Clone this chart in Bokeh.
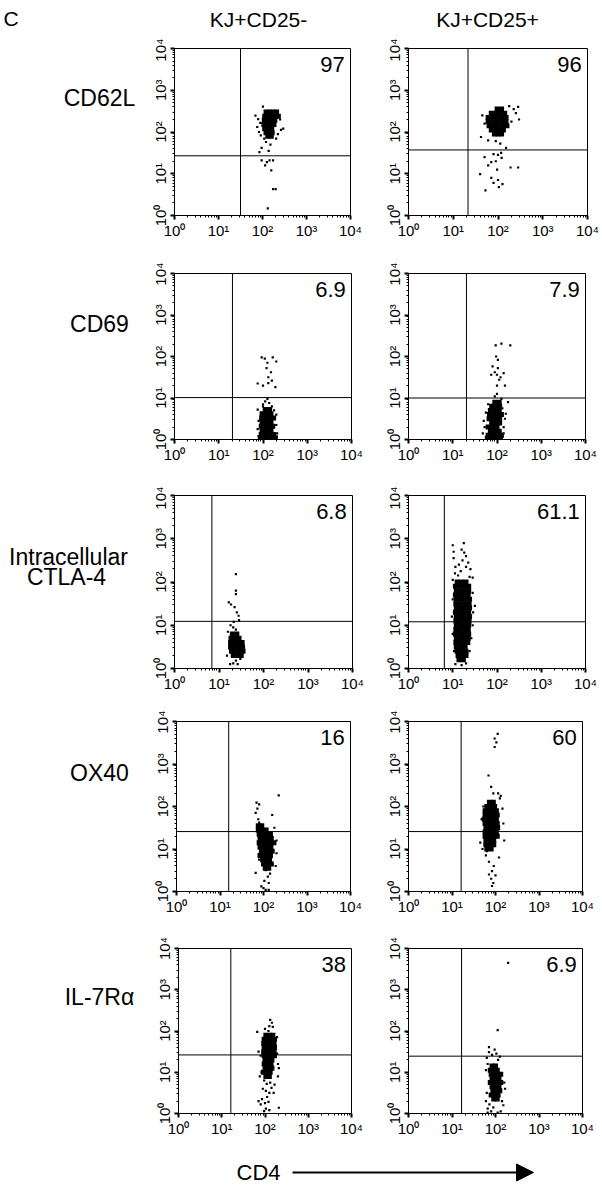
import numpy as np
from bokeh.plotting import figure
from bokeh.models import Range1d, FixedTicker, Span, Label, Arrow, NormalHead
from bokeh.layouts import column, row
from bokeh.embed import file_html
from bokeh.resources import INLINE
from bokeh.core.properties import value

FONT = "Liberation Sans"

# ---------------- data ----------------
panel_letter = "C"
column_titles = ["KJ+CD25-", "KJ+CD25+"]
row_markers = [["CD62L"], ["CD69"], ["Intracellular", "CTLA-4"], ["OX40"], ["IL-7R\u03b1"]]
axis_title = "CD4"
decade_ticks = [1, 10, 100, 1000, 10000]
decade_labels = ["10\u2070", "10\u00b9", "10\u00b2", "10\u00b3", "10\u2074"]

# upper-right quadrant percentages, panels in reading order
percent_upper_right = ["97", "96", "6.9", "7.9", "6.8", "61.1", "16", "60", "38", "6.9"]
# quadrant gates (log10 of fluorescence)
gate_cd4_log = [1.50, 1.33, 1.31, 1.31, 0.84, 0.81, 1.20, 1.21, 1.21, 1.22]
gate_marker_log = [1.43, 1.57, 1.01, 1.00, 1.09, 1.08, 1.41, 1.41, 1.42, 1.39]

# events, log10(CD4) / log10(marker); dense cores given as rows (y, [x...])
cd62l_neg_core = [(2.48, [2.08, 2.16, 2.24, 2.32]), (2.38, [2.05, 2.13, 2.21, 2.29, 2.36]),
                  (2.28, [2.04, 2.12, 2.20, 2.28]), (2.18, [2.03, 2.11, 2.19, 2.26]),
                  (2.08, [2.05, 2.13, 2.21]), (1.98, [2.08, 2.16, 2.22]), (1.90, [2.12, 2.20])]
cd62l_neg_sparse = [(2.01, 2.61), (1.84, 2.39), (1.90, 2.31), (1.95, 2.22), (2.42, 2.05), (2.47, 2.08),
                    (1.96, 1.92), (2.04, 1.84), (2.31, 1.84), (2.08, 1.76), (2.18, 1.70), (1.98, 1.62),
                    (2.14, 1.55), (1.93, 1.52), (1.98, 1.32), (2.10, 1.28), (2.16, 1.32), (2.24, 1.32),
                    (2.06, 1.20), (2.20, 1.08), (2.24, 0.63), (2.30, 0.63), (2.12, 0.17), (1.88, 2.12),
                    (2.40, 2.30), (2.35, 1.95), (1.92, 2.00)]

cd62l_pos_core = [(2.55, [1.98, 2.08]), (2.45, [1.85, 1.95, 2.05, 2.15]),
                  (2.35, [1.78, 1.88, 1.98, 2.08, 2.18]), (2.25, [1.78, 1.88, 1.98, 2.08, 2.18]),
                  (2.15, [1.80, 1.90, 2.00, 2.10, 2.20]), (2.05, [1.85, 1.95, 2.05, 2.12]),
                  (1.95, [1.92, 2.00, 2.08])]
cd62l_pos_sparse = [(2.25, 2.62), (2.35, 2.55), (2.45, 2.60), (2.40, 2.45), (2.47, 2.30), (2.30, 2.25),
                    (1.65, 2.40), (1.70, 2.20), (1.62, 1.88), (1.78, 1.80), (1.95, 1.78), (2.05, 1.72),
                    (2.18, 1.62), (1.90, 1.47), (2.00, 1.45), (2.07, 1.50), (1.70, 1.40), (1.85, 1.28),
                    (1.95, 1.30), (2.08, 1.38), (2.28, 1.15), (2.45, 1.15), (1.78, 1.20), (1.60, 0.99),
                    (1.85, 0.90), (2.00, 0.85), (1.90, 0.78), (2.10, 0.75), (1.72, 0.60), (2.02, 0.68),
                    (1.98, 1.10)]

cd69_neg_core = [(0.72, [2.05, 2.15]), (0.62, [1.98, 2.08, 2.18]), (0.52, [1.97, 2.06, 2.16, 2.24]),
                 (0.42, [1.98, 2.08, 2.18]), (0.32, [1.96, 2.05, 2.14, 2.22]), (0.22, [1.98, 2.08, 2.18]),
                 (0.12, [1.96, 2.05, 2.14, 2.24]), (0.04, [1.94, 2.02, 2.10, 2.20, 2.28])]
cd69_neg_sparse = [(1.97, 1.98), (2.04, 1.95), (2.22, 1.98), (2.30, 1.88), (2.10, 1.85), (2.08, 1.72),
                   (2.18, 1.62), (2.12, 1.50), (2.20, 1.42), (1.88, 1.35), (2.00, 1.30), (2.12, 1.36),
                   (2.28, 1.26), (2.10, 0.98), (2.05, 0.92), (2.14, 0.88), (2.00, 0.85), (2.20, 0.80),
                   (1.88, 0.72), (2.30, 0.60), (1.90, 0.45), (2.30, 0.35), (1.88, 0.25), (2.32, 0.15),
                   (1.90, 0.08), (2.00, 0.80), (2.25, 0.70)]

cd69_pos_core = [(0.90, [1.95, 2.05]), (0.80, [1.88, 1.98, 2.06]), (0.70, [1.85, 1.95, 2.05]),
                 (0.60, [1.83, 1.92, 2.02, 2.10]), (0.50, [1.82, 1.90, 1.98, 2.06]),
                 (0.40, [1.88, 1.98, 2.06]), (0.30, [1.80, 1.90, 2.00]), (0.20, [1.85, 1.95, 2.05]),
                 (0.10, [1.80, 1.90, 2.00, 2.10]), (0.03, [1.78, 1.88, 1.98, 2.08])]
cd69_pos_sparse = [(1.97, 2.27), (2.10, 2.31), (2.30, 2.27), (1.98, 2.00), (2.02, 1.92), (1.90, 1.76),
                   (2.02, 1.72), (1.95, 1.62), (1.87, 1.56), (2.00, 1.56), (2.15, 1.60), (2.08, 1.50),
                   (2.05, 1.44), (2.00, 1.30), (2.18, 1.30), (2.00, 1.10), (1.95, 1.04), (2.10, 0.98),
                   (2.25, 0.90), (1.70, 0.45), (1.72, 0.30), (1.75, 0.65), (2.18, 0.50), (2.15, 0.30),
                   (2.20, 0.62), (1.68, 0.15), (2.15, 0.15), (1.80, 0.85), (2.12, 0.75)]

ctla4_neg_core = [(0.80, [1.30, 1.40]), (0.70, [1.27, 1.36, 1.45]), (0.60, [1.26, 1.35, 1.44, 1.52]),
                  (0.50, [1.26, 1.35, 1.44, 1.53]), (0.40, [1.28, 1.37, 1.46, 1.54]),
                  (0.30, [1.32, 1.42, 1.50])]
ctla4_neg_sparse = [(1.38, 2.18), (1.38, 1.80), (1.38, 1.72), (1.22, 1.53), (1.27, 1.48), (1.35, 1.42),
                    (1.40, 1.30), (1.44, 1.22), (1.45, 1.12), (1.33, 1.08), (1.26, 1.00), (1.32, 0.95),
                    (1.38, 0.90), (1.20, 0.85), (1.25, 0.10), (1.32, 0.12), (1.42, 0.10), (1.38, 0.18),
                    (1.48, 0.22), (1.18, 0.30)]

ctla4_pos_core = [(2.00, [1.10, 1.20, 1.30]), (1.90, [1.06, 1.16, 1.26, 1.36]),
                  (1.80, [1.08, 1.18, 1.28, 1.36]), (1.70, [1.06, 1.16, 1.26, 1.35]),
                  (1.60, [1.08, 1.18, 1.28, 1.38]), (1.50, [1.07, 1.17, 1.27, 1.37]),
                  (1.40, [1.08, 1.18, 1.28, 1.38]), (1.30, [1.06, 1.16, 1.26, 1.36]),
                  (1.20, [1.08, 1.18, 1.28, 1.38]), (1.10, [1.07, 1.17, 1.27, 1.37]),
                  (1.00, [1.08, 1.18, 1.28, 1.36]), (0.90, [1.07, 1.17, 1.27, 1.35]),
                  (0.80, [1.06, 1.16, 1.26, 1.36]), (0.70, [1.08, 1.18, 1.28, 1.35]),
                  (0.60, [1.07, 1.17, 1.27, 1.34]), (0.50, [1.08, 1.18, 1.28]),
                  (0.40, [1.10, 1.20, 1.30]), (0.30, [1.12, 1.22, 1.30]), (0.20, [1.14, 1.24])]
ctla4_pos_sparse = [(1.00, 2.85), (1.02, 2.70), (1.02, 2.55), (1.20, 2.75), (1.26, 2.68), (1.30, 2.60),
                    (1.22, 2.50), (1.35, 2.45), (1.30, 2.35), (1.40, 2.30), (1.18, 2.25), (1.05, 2.20),
                    (1.12, 2.15), (1.38, 2.12), (1.45, 2.10), (1.00, 2.05), (1.45, 1.75), (1.50, 1.45),
                    (1.46, 1.30), (1.00, 1.60), (0.98, 1.20), (1.45, 1.00), (1.00, 0.80), (1.42, 0.70),
                    (1.03, 0.40), (1.38, 0.40), (1.06, 0.10), (1.20, 0.08), (1.30, 0.12), (1.25, 2.90),
                    (1.14, 2.40), (1.06, 2.35)]

ox40_neg_core = [(1.55, [1.88, 1.96]), (1.45, [1.88, 1.97, 2.06]), (1.35, [1.90, 1.99, 2.08, 2.16]),
                 (1.25, [1.92, 2.01, 2.10, 2.18]), (1.15, [1.90, 1.98, 2.07, 2.16, 2.24]),
                 (1.05, [1.92, 2.00, 2.08, 2.17]), (0.95, [1.95, 2.04, 2.12, 2.20]),
                 (0.85, [1.92, 2.00, 2.08, 2.16]), (0.75, [1.98, 2.06, 2.14]),
                 (0.65, [2.00, 2.08, 2.18]), (0.55, [2.04, 2.12])]
ox40_neg_sparse = [(2.35, 2.26), (1.84, 2.09), (1.90, 2.05), (1.86, 1.95), (2.20, 1.80), (1.82, 1.85),
                   (1.88, 1.70), (1.90, 1.62), (2.25, 1.50), (1.92, 1.55), (2.30, 1.20), (2.30, 0.90),
                   (1.90, 0.75), (2.28, 0.60), (1.82, 0.44), (2.10, 0.35), (2.15, 0.42), (2.05, 0.50),
                   (2.02, 0.25), (2.12, 0.20), (2.00, 0.08), (2.05, 0.04), (2.12, 0.04), (1.95, 0.12)]

ox40_pos_core = [(2.10, [1.86, 1.95]), (2.00, [1.80, 1.90, 1.98]), (1.90, [1.76, 1.85, 1.94, 2.02]),
                 (1.80, [1.76, 1.85, 1.94, 2.04]), (1.70, [1.74, 1.83, 1.92, 2.02]),
                 (1.60, [1.76, 1.85, 1.94, 2.04]), (1.50, [1.78, 1.87, 1.96, 2.05]),
                 (1.40, [1.76, 1.85, 1.94, 2.02]), (1.30, [1.76, 1.85, 1.94, 2.04]),
                 (1.20, [1.78, 1.87, 1.96]), (1.10, [1.78, 1.87, 1.96]), (1.00, [1.80, 1.90])]
ox40_pos_sparse = [(2.05, 3.71), (1.98, 3.60), (2.02, 3.51), (1.98, 3.40), (1.84, 2.73), (1.90, 2.46),
                   (1.95, 2.31), (2.06, 2.31), (2.12, 2.25), (2.10, 2.19), (1.72, 2.00), (2.16, 1.95),
                   (1.68, 1.70), (2.18, 1.60), (1.65, 1.15), (2.20, 1.20), (1.70, 1.00), (1.78, 0.85),
                   (1.85, 0.70), (1.96, 0.60), (1.92, 0.48), (1.85, 0.40), (2.00, 0.38), (1.90, 0.30),
                   (1.95, 0.20), (1.92, 0.13), (1.80, 0.95), (1.75, 1.10), (2.08, 0.80)]

il7r_neg_core = [(1.90, [2.02, 2.10, 2.18]), (1.80, [1.98, 2.06, 2.14, 2.22]),
                 (1.70, [1.97, 2.05, 2.13, 2.21]), (1.60, [1.98, 2.06, 2.14, 2.22]),
                 (1.50, [1.97, 2.05, 2.13, 2.21]), (1.40, [1.98, 2.06, 2.14, 2.22]),
                 (1.30, [2.00, 2.08, 2.16]), (1.20, [1.98, 2.06, 2.14]), (1.10, [2.00, 2.08, 2.16]),
                 (1.00, [1.96, 2.04, 2.12]), (0.90, [2.02, 2.10])]
il7r_neg_sparse = [(2.12, 2.27), (2.16, 2.20), (2.10, 2.12), (2.18, 2.10), (1.82, 1.98), (2.00, 2.05),
                   (2.08, 2.00), (2.28, 1.85), (1.85, 1.50), (1.90, 1.40), (2.28, 1.45), (2.30, 1.20),
                   (2.32, 1.10), (1.92, 1.00), (1.88, 0.90), (2.30, 0.90), (1.98, 0.80), (2.04, 0.72),
                   (2.12, 0.75), (2.22, 0.70), (1.95, 0.60), (2.02, 0.55), (2.10, 0.50), (2.05, 0.40),
                   (1.93, 0.35), (1.85, 0.30), (2.00, 0.25), (1.90, 0.22), (2.08, 0.28), (2.32, 0.14),
                   (2.02, 0.12), (1.98, 0.06), (2.10, 0.08), (2.20, 0.50), (2.15, 0.62)]

il7r_pos_core = [(1.15, [1.92, 2.00]), (1.05, [1.88, 1.96, 2.04]), (0.95, [1.90, 1.98, 2.06, 2.12]),
                 (0.85, [1.92, 2.00, 2.08]), (0.75, [1.88, 1.96, 2.04, 2.12]),
                 (0.65, [1.92, 2.00, 2.08]), (0.55, [1.94, 2.02, 2.10]), (0.45, [1.90, 1.98, 2.06]),
                 (0.35, [1.96, 2.04])]
il7r_pos_sparse = [(2.29, 3.65), (2.05, 2.02), (1.85, 1.61), (1.98, 1.55), (1.85, 1.49), (2.02, 1.45),
                   (1.92, 1.42), (1.80, 1.35), (2.06, 1.30), (2.10, 1.38), (1.82, 1.20), (1.78, 1.05),
                   (2.20, 0.75), (2.22, 0.60), (1.80, 0.50), (1.78, 0.30), (1.82, 0.12), (1.90, 0.05),
                   (2.12, 0.05), (2.18, 0.20), (2.15, 0.30), (1.86, 0.22), (1.95, 0.15), (2.05, 0.02),
                   (1.82, 0.02)]

cores = [cd62l_neg_core, cd62l_pos_core, cd69_neg_core, cd69_pos_core, ctla4_neg_core,
         ctla4_pos_core, ox40_neg_core, ox40_pos_core, il7r_neg_core, il7r_pos_core]
sparses = [cd62l_neg_sparse, cd62l_pos_sparse, cd69_neg_sparse, cd69_pos_sparse, ctla4_neg_sparse,
           ctla4_pos_sparse, ox40_neg_sparse, ox40_pos_sparse, il7r_neg_sparse, il7r_pos_sparse]

# ---------------- layout (page pixels, page has no body margin) ----------------
ROW_H = 224
HEAD_H = 38
LABEL_W = 138
LEFT_W = 227
RIGHT_W = 237
FOOT_H = 41
TOTAL_W = LABEL_W + LEFT_W + RIGHT_W
# frame left, top, width, height in page coordinates
frames = [(174, 48, 176, 169), (408, 47, 179, 168),
          (174, 273, 177, 168), (408, 271, 177, 168),
          (174, 495, 178, 173), (408, 495, 177, 174),
          (176, 720, 174, 171), (408, 721, 174, 171),
          (178, 943, 173, 170), (408, 948, 174, 170)]

minor = [m * 10 ** d for d in range(4) for m in range(2, 10)]


def make_panel(i, fig_x0, fig_w, row_y0):
    L, T, W, H = frames[i]
    p = figure(width=fig_w, height=ROW_H, x_axis_type="log", y_axis_type="log",
               x_range=Range1d(1, 10000), y_range=Range1d(1, 10000),
               output_backend="svg", toolbar_location=None,
               min_border_left=L - fig_x0, min_border_right=fig_x0 + fig_w - L - W,
               min_border_top=T - row_y0, min_border_bottom=row_y0 + ROW_H - T - H)
    p.grid.visible = False
    p.outline_line_color = "black"
    p.outline_line_alpha = 1.0
    p.outline_line_width = 1
    p.background_fill_color = "white"
    p.border_fill_color = "white"
    for ax in (p.xaxis[0], p.yaxis[0]):
        ax.ticker = FixedTicker(ticks=decade_ticks, minor_ticks=minor)
        ax.major_label_overrides = {t: s for t, s in zip(decade_ticks, decade_labels)}
        ax.axis_line_color = "black"
        ax.major_tick_line_color = "black"
        ax.minor_tick_line_color = "black"
        ax.major_tick_in = 0
        ax.major_tick_out = 4
        ax.minor_tick_in = 0
        ax.minor_tick_out = 2
        ax.major_tick_line_width = 2
        ax.major_label_text_font = FONT
        ax.major_label_text_font_size = "15px"
        ax.major_label_text_color = "black"
        ax.major_label_standoff = 2
    p.yaxis.major_label_orientation = "vertical"

    core = cores[i]
    cx = [x for (y, xr) in core for x in xr]
    cy = [y for (y, xr) in core for _ in xr]
    p.scatter(10 ** np.array(cx), 10 ** np.array(cy), marker="square", size=5,
              fill_color="black", line_color=None)
    sx = [a for a, b in sparses[i]]
    sy = [b for a, b in sparses[i]]
    p.scatter(10 ** np.array(sx), 10 ** np.array(sy), marker="square", size=2.2,
              fill_color="black", line_color=None)

    p.add_layout(Span(location=10 ** gate_cd4_log[i], dimension="height",
                      line_color="black", line_width=1))
    p.add_layout(Span(location=10 ** gate_marker_log[i], dimension="width",
                      line_color="black", line_width=1))
    p.add_layout(Label(x=10 ** 3.87, y=10 ** 3.80, text=percent_upper_right[i],
                       text_align="right", text_baseline="top", text_font=FONT,
                       text_font_size="22px", text_color="black"))
    return p


def blank(w, h):
    f = figure(width=w, height=h, x_range=Range1d(0, w), y_range=Range1d(h, 0),
               x_axis_location=None, y_axis_location=None, min_border=0,
               output_backend="svg", toolbar_location=None)
    f.grid.visible = False
    f.outline_line_color = None
    f.background_fill_color = "white"
    f.border_fill_color = "white"
    return f


BIG = value("23px")

header = blank(TOTAL_W, HEAD_H)
header.text(x=[3], y=[18], text=[panel_letter], text_align="left", text_baseline="middle",
            text_font=value(FONT), text_font_size=value("21px"), text_color="black")
header.text(x=[258, 487], y=[19, 19], text=column_titles, text_align="center",
            text_baseline="middle", text_font=value(FONT), text_font_size=value("21px"),
            text_color="black")

rows = [header]
label_y = [66, 68, None, 68, 66]
for r in range(5):
    row_y0 = HEAD_H + r * ROW_H
    lab = blank(LABEL_W, ROW_H)
    lines = row_markers[r]
    if len(lines) == 1:
        lab.text(x=[99], y=[label_y[r]], text=lines, text_align="center", text_baseline="middle",
                 text_font=value(FONT), text_font_size=BIG, text_color="black")
    else:
        lab.text(x=[68, 66], y=[80, 105], text=lines, text_align="center", text_baseline="middle",
                 text_font=value(FONT), text_font_size=BIG, text_color="black")
    pl = make_panel(2 * r, LABEL_W, LEFT_W, row_y0)
    pr = make_panel(2 * r + 1, LABEL_W + LEFT_W, RIGHT_W, row_y0)
    rows.append(row(lab, pl, pr))

footer = blank(TOTAL_W, FOOT_H)
footer.text(x=[236], y=[14], text=[axis_title], text_align="left", text_baseline="middle",
            text_font=value(FONT), text_font_size=value("22px"), text_color="black")
footer.add_layout(Arrow(x_start=292, y_start=14, x_end=533, y_end=14, line_width=2,
                        line_color="black",
                        end=NormalHead(size=17, fill_color="black", line_color="black")))
rows.append(footer)

layout = column(*rows)
open("out.html", "w").write(file_html(layout, INLINE))
